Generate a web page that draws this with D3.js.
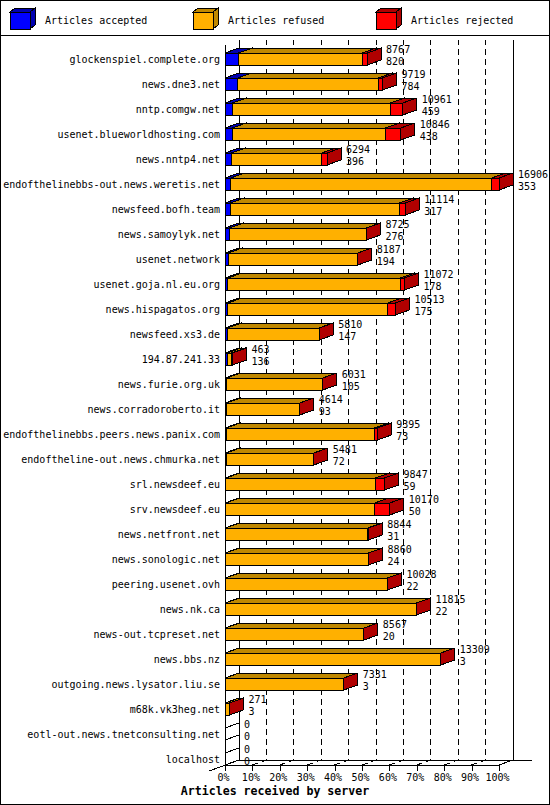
<!DOCTYPE html>
<html lang="en">
<head>
<meta charset="utf-8">
<title>Articles received by server</title>
<style>
  body { margin: 0; background: #fff; }
  svg { display: block; }
  text { font-family: "DejaVu Sans Mono", "Liberation Mono", monospace; font-size: 10px; fill: #000; }
  text.title { font-size: 11.6px; font-weight: bold; }
</style>
</head>
<body>
<script src="https://cdn.jsdelivr.net/npm/d3@7"></script>
<script>

// data (rejected/refused split)
var servers = [
  "glockenspiel.complete.org", "news.dne3.net", "nntp.comgw.net",
  "usenet.blueworldhosting.com", "news.nntp4.net", "endofthelinebbs-out.news.weretis.net",
  "newsfeed.bofh.team", "news.samoylyk.net", "usenet.network", "usenet.goja.nl.eu.org",
  "news.hispagatos.org", "newsfeed.xs3.de", "194.87.241.33", "news.furie.org.uk",
  "news.corradoroberto.it", "endofthelinebbs.peers.news.panix.com",
  "endoftheline-out.news.chmurka.net", "srl.newsdeef.eu", "srv.newsdeef.eu",
  "news.netfront.net", "news.sonologic.net", "peering.usenet.ovh", "news.nk.ca",
  "news-out.tcpreset.net", "news.bbs.nz", "outgoing.news.lysator.liu.se",
  "m68k.vk3heg.net", "eotl-out.news.tnetconsulting.net", "localhost"
];
var totals   = [8767, 9719, 10961, 10846, 6294, 16906, 11114, 8725, 8187, 11072, 10513, 5810, 463, 6031,
                4614, 9395, 5481, 9847, 10170, 8844, 8860, 10028, 11815, 8567, 13309, 7331, 271, 0, 0];
var accepted = [820, 784, 459, 438, 396, 353, 317, 276, 194, 178, 175, 147, 136, 105,
                93, 73, 72, 59, 50, 31, 24, 22, 22, 20, 3, 3, 3, 0, 0];
var refused  = [7637, 8665, 9742, 9458, 5568, 16103, 10447, 8429, 7993, 10644, 9863, 5653, 267, 5926,
                4521, 9152, 5409, 9228, 9190, 8773, 8836, 9991, 11793, 8547, 13306, 7328, 268, 0, 0];
var rejected = [310, 270, 760, 950, 330, 450, 350, 20, 0, 250, 475, 10, 60, 0,
                0, 170, 0, 560, 930, 40, 0, 15, 0, 0, 0, 0, 0, 0, 0];
var percentTicks = [0, 10, 20, 30, 40, 50, 60, 70, 80, 90, 100];
var seriesNames = ["Articles accepted", "Articles refused", "Articles rejected"];

var keys = ["accepted", "refused", "rejected"],
    fronts = ["#0000ff", "#ffb000", "#ff0000"],
    shades = ["#0000b0", "#c08800", "#b00000"];

var w = 550, h = 805,
    dx = 14, dy = 5,     // depth of the 3d effect
    faceH = 12,
    x0px = 225, x1px = 499, y0px = 40, y1px = 765;

var rows = servers.map(function(s, i) {
  return {server: s, total: totals[i], accepted: accepted[i], refused: refused[i], rejected: rejected[i]};
});

var x = d3.scaleLinear().domain([0, d3.max(totals)]).range([x0px, x1px]);
var pct = d3.scaleLinear().domain([0, 100]).range([x0px, x1px]);
var y = d3.scaleBand().domain(servers).range([y0px, y1px]);

var svg = d3.select("body").append("svg")
    .attr("width", w)
    .attr("height", h)
    .attr("shape-rendering", "crispEdges");

// frame and legend
svg.append("rect")
    .attr("x", 0.5).attr("y", 0.5)
    .attr("width", w - 1).attr("height", h - 1)
    .attr("fill", "#fff").attr("stroke", "#000");

svg.append("line")
    .attr("x1", 0).attr("x2", w)
    .attr("y1", 35.5).attr("y2", 35.5)
    .attr("stroke", "#000");

function poly(pts) { return "M" + pts.map(function(p) { return p.join(","); }).join("L") + "Z"; }

var legend = svg.selectAll("g.legend")
    .data(seriesNames)
  .enter().append("g")
    .attr("class", "legend")
    .attr("transform", function(d, i) { return "translate(" + (10 + 183 * i) + ",0)"; });

legend.append("path")
    .attr("d", poly([[0, 12], [5, 8], [25, 8], [20, 12]]))
    .attr("fill", function(d, i) { return shades[i]; })
    .attr("stroke", "#000");
legend.append("path")
    .attr("d", poly([[20, 12], [25, 8], [25, 25], [20, 29]]))
    .attr("fill", function(d, i) { return shades[i]; })
    .attr("stroke", "#000");
legend.append("rect")
    .attr("x", 0).attr("y", 12)
    .attr("width", 20).attr("height", 17)
    .attr("fill", function(d, i) { return fronts[i]; })
    .attr("stroke", "#000");
legend.append("text")
    .attr("x", 35).attr("y", 24)
    .text(function(d) { return d; });

// walls and grid
var grid = svg.append("g").attr("stroke", "#000").attr("fill", "none");

grid.selectAll("path.gl")
    .data(percentTicks.slice(1, -1))
  .enter().append("path")
    .attr("class", "gl")
    .attr("stroke-dasharray", "6,4")
    .attr("d", function(d) {
      var fx = pct(d);
      return "M" + fx + "," + y1px + "L" + (fx + dx) + "," + (y1px - dy) + "L" + (fx + dx) + "," + y0px;
    });

grid.append("path").attr("d", "M" + (x0px + dx) + "," + y0px + "V" + (y1px - dy));
grid.append("path").attr("d", "M" + (x1px + dx) + "," + y0px + "V" + (y1px - dy));
grid.append("path").attr("d", "M" + (x0px + dx) + "," + (y1px - dy) + "H" + (x1px + dx + 19));
grid.append("path").attr("d", "M" + (x0px - 16) + "," + (y1px + 6) + "L" + (x0px + dx) + "," + (y1px - dy));
grid.append("path").attr("d", "M" + x1px + "," + y1px + "L" + (x1px + dx) + "," + (y1px - dy));
grid.append("path").attr("d", "M" + x0px + "," + (y0px + dy) + "V" + y1px);

// stacked 3d bars
var series = d3.stack().keys(keys)(rows);

var layer = svg.selectAll("g.layer")
    .data(series)
  .enter().append("g")
    .attr("class", "layer")
    .attr("stroke", "#000");

layer.each(function(s, k) {
  var g = d3.select(this);
  var seg = g.selectAll("g")
      .data(s)
    .enter().append("g");

  seg.append("path")
      .attr("d", function(d) {
        var a = x(d[0]), b = x(d[1]), yt = y(d.data.server) + 13;
        return poly([[a, yt], [a + dx, yt - dy], [b + dx, yt - dy], [b, yt]]);
      })
      .attr("fill", function(d) { return d.data.total ? shades[k] : "none"; });

  seg.append("path")
      .attr("d", function(d) {
        var b = x(d[1]), yt = y(d.data.server) + 13;
        return poly([[b, yt], [b + dx, yt - dy], [b + dx, yt - dy + faceH], [b, yt + faceH]]);
      })
      .attr("fill", function(d) { return d.data.total ? shades[k] : "none"; });

  seg.append("path")
      .attr("d", function(d) {
        var a = x(d[0]), b = x(d[1]), yt = y(d.data.server) + 13;
        return poly([[a, yt], [b, yt], [b, yt + faceH], [a, yt + faceH]]);
      })
      .attr("fill", fronts[k]);
});

// server names
svg.append("g").selectAll("text")
    .data(rows)
  .enter().append("text")
    .attr("x", 220)
    .attr("y", function(d) { return y(d.server) + 23; })
    .attr("text-anchor", "end")
    .text(function(d) { return d.server; });

// value labels: total, accepted
var vals = svg.append("g").selectAll("text")
    .data(rows)
  .enter().append("text")
    .attr("x", function(d) { return x(d.total) + dx + 5; })
    .attr("y", function(d) { return y(d.server) + 13; });
vals.append("tspan").text(function(d) { return d.total; });
vals.append("tspan")
    .attr("x", function(d) { return x(d.total) + dx + 5; })
    .attr("dy", 12)
    .text(function(d) { return d.accepted; });

// percent axis
var axis = svg.append("g")
    .attr("transform", "translate(0," + y1px + ")")
    .call(d3.axisBottom(pct)
      .tickValues(percentTicks)
      .tickSize(6)
      .tickSizeOuter(0)
      .tickFormat(function(d) { return d + "%"; }));
axis.select(".domain").attr("stroke", "#000");
axis.selectAll(".tick line").attr("stroke", "#000");
axis.selectAll(".tick text").attr("x", -2).attr("fill", "#000");

svg.append("text")
    .attr("class", "title")
    .attr("x", w / 2)
    .attr("y", 795)
    .attr("text-anchor", "middle")
    .text("Articles received by server");

</script>
</body>
</html>
